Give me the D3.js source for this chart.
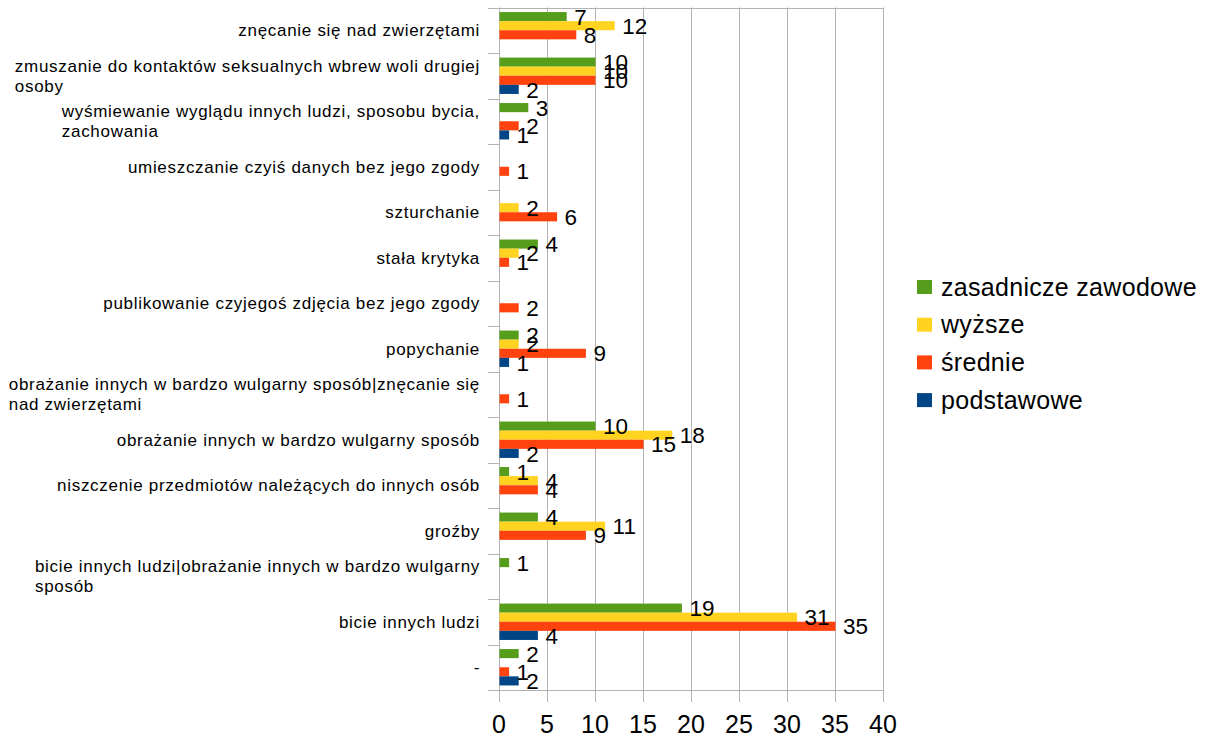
<!DOCTYPE html>
<html>
<head>
<meta charset="utf-8">
<script src="https://cdn.jsdelivr.net/npm/d3@7/dist/d3.min.js"></script>
<style>
  html, body { margin: 0; padding: 0; background: #fff; }
  svg { display: block; font-family: "Liberation Sans", Arial, sans-serif; }
</style>
</head>
<body>
<svg id="chart" width="1206" height="738"></svg>
<script>
// Categories, top to bottom
const categories = [
  "znęcanie się nad zwierzętami",
  "zmuszanie do kontaktów seksualnych wbrew woli drugiej osoby",
  "wyśmiewanie wyglądu innych ludzi, sposobu bycia, zachowania",
  "umieszczanie czyiś danych bez jego zgody",
  "szturchanie",
  "stała krytyka",
  "publikowanie czyjegoś zdjęcia bez jego zgody",
  "popychanie",
  "obrażanie innych w bardzo wulgarny sposób|znęcanie się nad zwierzętami",
  "obrażanie innych w bardzo wulgarny sposób",
  "niszczenie przedmiotów należących do innych osób",
  "groźby",
  "bicie innych ludzi|obrażanie innych w bardzo wulgarny sposób",
  "bicie innych ludzi",
  "-"
];

// Series (order within each group, top to bottom)
const seriesNames = ["zasadnicze zawodowe", "wyższe", "średnie", "podstawowe"];
const zasadniczeZawodowe = [7, 10, 3, 0, 0, 4, 0, 2, 0, 10, 1, 4, 1, 19, 2];
const wyzsze             = [12, 10, 0, 0, 2, 2, 0, 2, 0, 18, 4, 11, 0, 31, 0];
const srednie            = [8, 10, 2, 1, 6, 1, 2, 9, 1, 15, 4, 9, 0, 35, 1];
const podstawowe         = [0, 2, 1, 0, 0, 0, 0, 1, 0, 2, 0, 0, 0, 4, 2];
const seriesColors = ["#579d1c", "#ffd320", "#ff420e", "#004586"];
const xTicks = [0, 5, 10, 15, 20, 25, 30, 35, 40];

const seriesValues = [zasadniczeZawodowe, wyzsze, srednie, podstawowe];

const svg = d3.select("#chart");
const plot = { left: 499, right: 883, top: 7.5, bottom: 690 };
const gridColor = "#b3b3b3";

const x = d3.scaleLinear().domain([0, 40]).range([plot.left, plot.right]);
const y = d3.scaleBand().domain(categories).range([plot.top, plot.bottom]).padding(0);
const yInner = d3.scaleBand().domain(seriesNames).range([0, y.bandwidth()])
  .paddingInner(0).paddingOuter(0.5);

// Vertical grid lines (extending below the plot as tick marks)
svg.append("g").selectAll("line").data(xTicks).join("line")
  .attr("x1", d => Math.round(x(d)) + 0.5).attr("x2", d => Math.round(x(d)) + 0.5)
  .attr("y1", plot.top).attr("y2", plot.bottom + 12)
  .attr("stroke", gridColor).attr("stroke-width", 1);

// Top and bottom frame lines
[plot.top, plot.bottom].forEach(yy => {
  svg.append("line")
    .attr("x1", plot.left - 11).attr("x2", plot.right + 0.5)
    .attr("y1", Math.round(yy) + 0.5).attr("y2", Math.round(yy) + 0.5)
    .attr("stroke", gridColor);
});

// Category separator ticks on the left axis
const bounds = categories.map(c => y(c)).slice(1);
svg.append("g").selectAll("line").data(bounds).join("line")
  .attr("x1", plot.left - 11).attr("x2", plot.left)
  .attr("y1", d => Math.round(d) + 0.5).attr("y2", d => Math.round(d) + 0.5)
  .attr("stroke", gridColor);

// Bars
const groups = svg.append("g").selectAll("g").data(categories).join("g")
  .attr("transform", c => `translate(0,${y(c)})`);

seriesNames.forEach((s, si) => {
  groups.each(function (c, ci) {
    const v = seriesValues[si][ci];
    if (!v) return;
    d3.select(this).append("rect")
      .attr("x", x(0) + 0.5)
      .attr("y", yInner(s))
      .attr("width", x(v) - x(0))
      .attr("height", yInner.bandwidth())
      .attr("fill", seriesColors[si]);
  });
});

// Value labels
seriesNames.forEach((s, si) => {
  groups.each(function (c, ci) {
    const v = seriesValues[si][ci];
    if (!v) return;
    d3.select(this).append("text")
      .attr("x", x(v) + 8)
      .attr("y", yInner(s) + yInner.bandwidth() / 2)
      .attr("dy", "0.36em")
      .attr("font-size", 22.5)
      .attr("fill", "#000")
      .text(v);
  });
});

// Category labels with word wrapping
const labelRight = 480;
const maxLabelWidth = 496;
const lineHeight = 20;
const labelFont = 17;
const labelSpacing = 0.7;
const measurer = svg.append("text").attr("font-size", labelFont)
  .attr("letter-spacing", labelSpacing).attr("visibility", "hidden");
function textWidth(t) { measurer.text(t); return measurer.node().getComputedTextLength(); }
function wrap(str) {
  const words = str.split(" ");
  const lines = [];
  let cur = "";
  words.forEach(w => {
    const t = cur ? cur + " " + w : w;
    if (cur && textWidth(t) > maxLabelWidth) { lines.push(cur); cur = w; }
    else cur = t;
  });
  lines.push(cur);
  return lines;
}
categories.forEach(c => {
  const lines = wrap(c);
  const w = d3.max(lines, textWidth);
  const cy = y(c) + y.bandwidth() / 2;
  const top = cy - (lines.length - 1) * lineHeight / 2;
  const t = svg.append("text").attr("font-size", labelFont)
    .attr("letter-spacing", labelSpacing).attr("fill", "#000");
  lines.forEach((ln, i) => {
    t.append("tspan").attr("x", labelRight - w).attr("y", top + i * lineHeight)
      .attr("dy", "0.35em").text(ln);
  });
});
measurer.remove();

// X-axis tick labels
svg.append("g").selectAll("text").data(xTicks).join("text")
  .attr("x", d => x(d)).attr("y", 724).attr("dy", "0.36em")
  .attr("text-anchor", "middle").attr("font-size", 25).attr("fill", "#000")
  .text(d => d);

// Legend
const legend = svg.append("g").selectAll("g").data(seriesNames).join("g")
  .attr("transform", (d, i) => `translate(917,${287 + i * 37.7})`);
legend.append("rect").attr("x", 0).attr("y", -7).attr("width", 15).attr("height", 14)
  .attr("fill", (d, i) => seriesColors[i]);
legend.append("text").attr("x", 24).attr("y", 0).attr("dy", "0.35em")
  .attr("font-size", 25).attr("letter-spacing", 0.3).attr("fill", "#000").text(d => d);
</script>
</body>
</html>
